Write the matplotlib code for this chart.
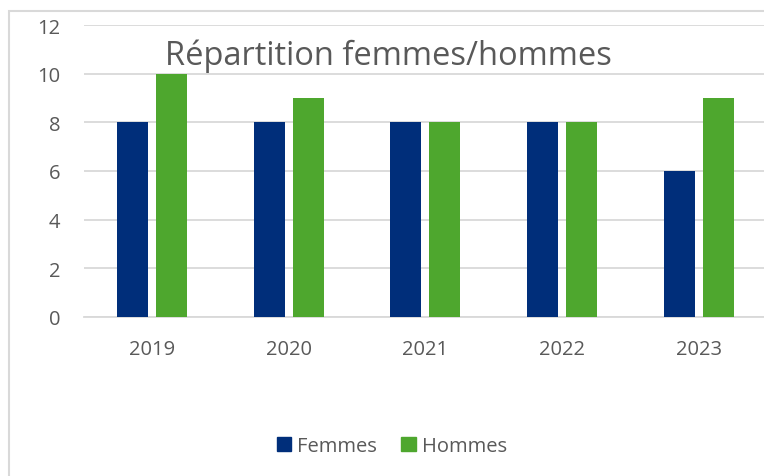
import numpy as np
import matplotlib.pyplot as plt
from matplotlib.patches import Rectangle, Patch

years = ["2019", "2020", "2021", "2022", "2023"]
femmes = [8, 8, 8, 8, 6]
hommes = [10, 9, 8, 8, 9]
y_ticks = [0, 2, 4, 6, 8, 10, 12]

plt.rcParams['font.family'] = ['Open Sans', 'DejaVu Sans']
W, H = 764, 477
fig = plt.figure(figsize=(W / 100, H / 100), dpi=100)

# zone de tracé en pixels (x0, y0 haut, x1, y1 bas)
px0, px1 = 83.7, 767.0
py_top, py_bot = 26.0, 318.0
ax = fig.add_axes([px0 / W, 1 - py_bot / H, (px1 - px0) / W, (py_bot - py_top) / H])

x = np.arange(len(years))
bw = 0.227
off = 0.143
ax.bar(x - off, femmes, bw, color='#002E7A', zorder=3)
ax.bar(x + off, hommes, bw, color='#4EA72E', zorder=3)

ax.set_xlim(-0.5, len(years) - 0.5)
ax.set_ylim(0, 12)
ax.set_yticks(y_ticks)
ax.set_xticks(x)
ax.set_xticklabels(years)
ax.tick_params(axis='both', length=0, labelsize=14.5, colors='#595959')
ax.tick_params(axis='y', pad=17)
ax.tick_params(axis='x', pad=16)
ax.grid(axis='y', color='#D9D9D9', linewidth=1.3, zorder=0)
for s in ['left', 'right', 'top']:
    ax.spines[s].set_visible(False)
ax.spines['bottom'].set_color('#D9D9D9')
ax.spines['bottom'].set_linewidth(1.3)
ax.set_facecolor('none')

fig.text(388 / W, 1 - 56 / H, "Répartition femmes/hommes", ha='center', va='center',
         fontsize=23.5, color='#595959')

handles = [Patch(color='#002E7A', label='Femmes'), Patch(color='#4EA72E', label='Hommes')]
fig.legend(handles=handles, loc='center', bbox_to_anchor=(392 / W, 1 - 447 / H), ncol=2,
           frameon=False, fontsize=14.5, labelcolor='#595959', handlelength=0.7,
           handleheight=0.7, handletextpad=0.3, columnspacing=1.2)

# bordure du graphique
fig.patches.append(Rectangle((9 / W, -0.1), 1.2, 1.1 - 12 / H, transform=fig.transFigure,
                             fill=False, edgecolor='#D9D9D9', linewidth=1.5))

fig.savefig("out.png", dpi=100)
